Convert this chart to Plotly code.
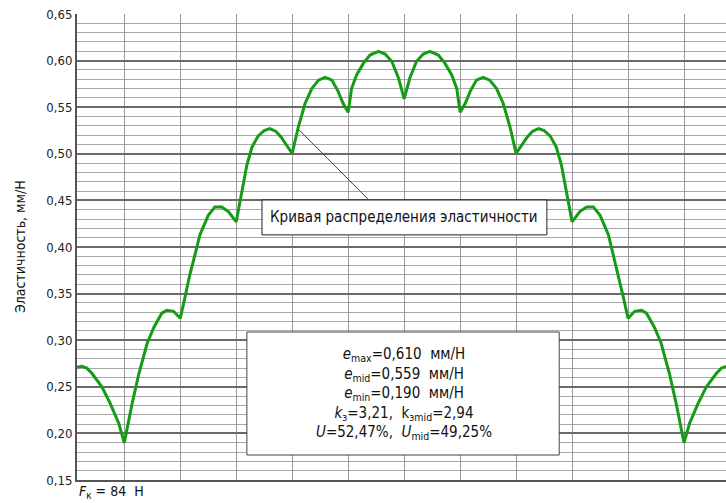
import plotly.graph_objects as go

# Elasticity distribution curve: position along the element vs elasticity, mm/N
position = [
    0.155, 0.24, 0.33, 0.42, 0.60, 0.75, 0.90, 1.00,
    1.14, 1.26, 1.41, 1.53, 1.67, 1.76, 1.88, 2.00,
    2.08, 2.17, 2.26, 2.35, 2.50, 2.62, 2.74, 2.86, 3.00,
    3.10, 3.19, 3.28, 3.39, 3.50, 3.60, 3.71, 3.80, 3.89, 4.00,
    4.11, 4.23, 4.35, 4.47, 4.59, 4.71, 4.82, 4.91, 5.00,
    5.06, 5.15, 5.27, 5.39, 5.54, 5.66, 5.78, 5.90, 6.00,
    6.10, 6.22, 6.34, 6.46, 6.61, 6.73, 6.85, 6.94, 7.00,
    7.09, 7.18, 7.29, 7.41, 7.53, 7.65, 7.77, 7.89, 8.00,
    8.11, 8.20, 8.29, 8.40, 8.50, 8.61, 8.72, 8.81, 8.90, 9.00,
    9.14, 9.26, 9.38, 9.50, 9.65, 9.74, 9.83, 9.92, 10.00,
    10.12, 10.24, 10.33, 10.47, 10.59, 10.74, 10.86, 11.00,
    11.10, 11.25, 11.40, 11.58, 11.67, 11.76, 11.845,
]
elasticity = [
    0.271, 0.272, 0.270, 0.2645, 0.250, 0.232, 0.211, 0.190,
    0.232, 0.264, 0.297, 0.314, 0.329, 0.332, 0.331, 0.3235,
    0.345, 0.370, 0.391, 0.413, 0.434, 0.443, 0.443, 0.438, 0.427,
    0.459, 0.488, 0.507, 0.519, 0.525, 0.527, 0.524, 0.518, 0.510, 0.5005,
    0.529, 0.554, 0.570, 0.579, 0.582, 0.579, 0.567, 0.554, 0.5445,
    0.570, 0.5846, 0.597, 0.606, 0.610, 0.607, 0.599, 0.581, 0.559,
    0.581, 0.599, 0.607, 0.610, 0.606, 0.597, 0.5846, 0.570, 0.5445,
    0.554, 0.567, 0.579, 0.582, 0.579, 0.570, 0.554, 0.529, 0.5005,
    0.510, 0.518, 0.524, 0.527, 0.525, 0.519, 0.507, 0.488, 0.459, 0.427,
    0.438, 0.443, 0.443, 0.434, 0.413, 0.391, 0.370, 0.345, 0.3235,
    0.331, 0.332, 0.329, 0.314, 0.297, 0.264, 0.232, 0.190,
    0.211, 0.232, 0.250, 0.2645, 0.270, 0.272, 0.271,
]

key_positions = list(range(1, 12))
y_ticks = [0.15, 0.20, 0.25, 0.30, 0.35, 0.40, 0.45, 0.50, 0.55, 0.60, 0.65]

curve_label = "Кривая распределения эластичности"
summary_lines = [
    "<i>e</i><sub>max</sub>=0,610\u00a0\u00a0мм/Н",
    "<i>e</i><sub>mid</sub>=0,559\u00a0\u00a0мм/Н",
    "<i>e</i><sub>min</sub>=0,190\u00a0\u00a0мм/Н",
    "<i>k</i><sub>з</sub>=3,21,\u00a0\u00a0k<sub>зmid</sub>=2,94",
    "<i>U</i>=52,47%,\u00a0\u00a0<i>U</i><sub>mid</sub>=49,25%",
]
force_label = "<i>F</i><sub>к</sub>\u00a0=\u00a084\u00a0\u00a0Н"
y_title = "Эластичность, мм/Н"

FONT = "DejaVu Sans Condensed, DejaVu Sans, sans-serif"

fig = go.Figure()
fig.add_trace(go.Scatter(
    x=position, y=elasticity, mode="lines",
    line=dict(color="#169b16", width=3),
    hoverinfo="skip", showlegend=False,
))

# leader line from the curve to its caption box
fig.add_shape(type="line", x0=4.10, y0=0.527, x1=5.37, y1=0.4504,
              xref="x", yref="y", line=dict(color="#444444", width=1), layer="above")
# caption box
fig.add_shape(type="rect", x0=3.46, x1=8.55, y0=0.413, y1=0.4504,
              xref="x", yref="y", fillcolor="white",
              line=dict(color="#222222", width=1), layer="above")
fig.add_annotation(x=6.0, y=0.4317, xref="x", yref="y", text=curve_label,
                   showarrow=False, font=dict(family=FONT, size=15, color="#111111"))
# summary box
fig.add_shape(type="rect", x0=3.19, x1=8.77, y0=0.1768, y1=0.3088,
              xref="x", yref="y", fillcolor="white",
              line=dict(color="#444444", width=1), layer="above")
fig.add_annotation(x=6.0, y=0.2428, xref="x", yref="y", text="<br>".join(summary_lines),
                   showarrow=False, align="center",
                   font=dict(family=FONT, size=15, color="#111111"))

fig.add_annotation(x=0, y=0, xref="paper", yref="paper", xanchor="left", yanchor="top",
                   yshift=-1, text=force_label, showarrow=False,
                   font=dict(family=FONT, size=14, color="#111111"))
fig.add_annotation(x=0, y=0.5, xref="paper", yref="paper", xanchor="center", yanchor="middle",
                   xshift=-57, textangle=-90, text=y_title, showarrow=False,
                   font=dict(family=FONT, size=14, color="#111111"))

fig.update_layout(
    width=726, height=503,
    margin=dict(l=77, r=0, t=14, b=23),
    paper_bgcolor="white", plot_bgcolor="white",
    separators=", ",
    showlegend=False,
)
fig.update_xaxes(
    range=[0.155, 11.75], tickvals=key_positions, showticklabels=False, ticks="",
    showgrid=True, gridcolor="#9a9a9a", gridwidth=1, zeroline=False,
    showline=True, linecolor="#555555", linewidth=2,
)
fig.update_yaxes(
    range=[0.15, 0.65], tickvals=y_ticks, tickformat=".2f", ticks="",
    tickfont=dict(family=FONT, size=13, color="#222222"),
    showgrid=True, gridcolor="#6a6a6a", gridwidth=1.5, zeroline=False,
    showline=True, linecolor="#555555", linewidth=2,
    minor=dict(dtick=0.01, tick0=0.15, showgrid=True, gridcolor="#a8a8a8", gridwidth=1),
)

fig.write_html("out.html")
